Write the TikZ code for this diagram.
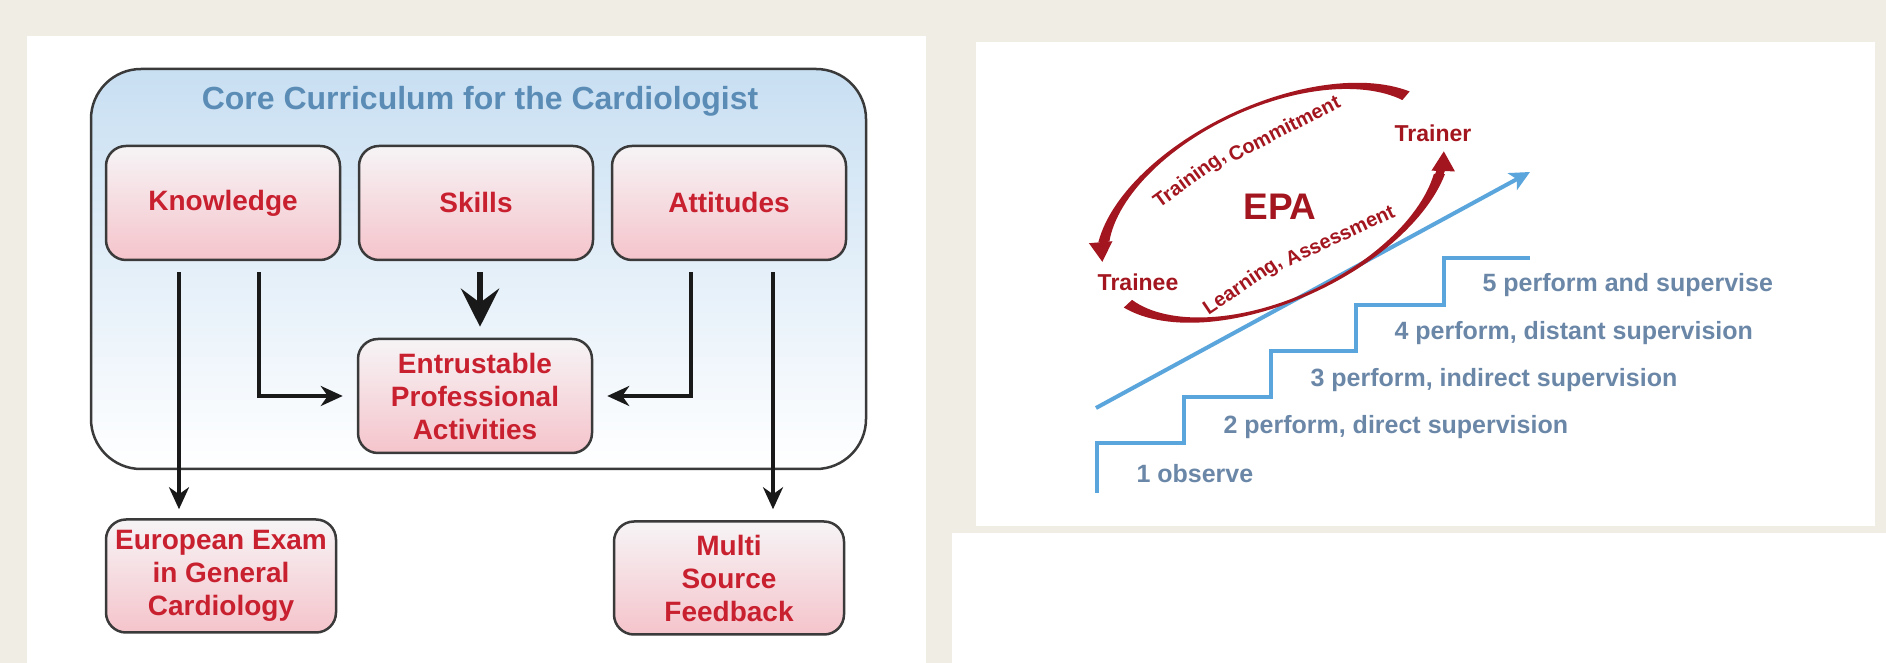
\documentclass[tikz,border=0pt]{standalone}
\usepackage{fontspec}
\setmainfont{Liberation Sans}
\usepackage{tikz}
\usetikzlibrary{arrows.meta}

\definecolor{bgbeige}{HTML}{F0EEE4}
\definecolor{boxred}{HTML}{C8202F}
\definecolor{titleblue}{HTML}{5B8CB6}
\definecolor{corefill}{HTML}{C8DFF2}
\definecolor{boxpink}{HTML}{F5C4CB}
\definecolor{boxtop}{HTML}{F6F4F6}
\definecolor{framegray}{HTML}{3A3A3A}
\definecolor{epared}{HTML}{A3161F}
\definecolor{stairblue}{HTML}{5AA5DC}
\definecolor{steptext}{HTML}{6B87A8}

\tikzset{
  bigbox/.style={draw=framegray, line width=2.5pt, rounded corners=50pt,
    top color=corefill, middle color=white!86!corefill, bottom color=white,
    minimum width=775pt, minimum height=400pt},
  box/.style={draw=framegray, line width=2.5pt, rounded corners=20pt,
    top color=boxtop, bottom color=boxpink, minimum width=234pt, minimum height=114pt,
    align=center, text=boxred, font=\fontsize{28}{33}\selectfont\bfseries},
  arr/.style={line width=3.5pt, draw=black!90, -{Stealth[length=22pt,width=20pt,inset=7pt]}},
  steplabel/.style={anchor=west, text=steptext, font=\fontsize{25}{25}\selectfont\bfseries},
  stair/.style={draw=stairblue, line width=4pt},
  actor/.style={text=epared, font=\fontsize{23}{23}\selectfont\bfseries},
  loopword/.style={text=epared, inner sep=0pt, font=\fontsize{20}{20}\selectfont\bfseries}
}

\begin{document}
\begin{tikzpicture}[x=1pt,y=1pt]
      \useasboundingbox (0,0) rectangle (1886,663);
      % panels
      \fill[bgbeige] (0,0) rectangle (1886,663);
      \fill[white] (27,0) rectangle (926,627);
      \fill[white] (976,137) rectangle (1875,621);
      \fill[white] (952,0) rectangle (1886,130);

      % left: core curriculum
      \node[bigbox] (core) at (478.5,394) {};
      \node[text=titleblue, font=\fontsize{32}{32}\selectfont\bfseries] (coretitle) at (480,562) {Core Curriculum for the Cardiologist};
      \node[box] (know) at (223,460) {Knowledge};
      \node[box] (skills) at (476,460) {Skills};
      \node[box] (att) at (729,460) {Attitudes};
      \node[box] (epa) at (475,267) {Entrustable\\Professional\\Activities};
      \node[box, minimum width=230pt, minimum height=113pt] (euro) at (221,87) {European Exam\\in General\\Cardiology};
      \node[box, minimum width=230pt, minimum height=113pt] (multi) at (729,85) {Multi\\Source\\Feedback};

      \draw[arr, shorten <=11pt, shorten >=9pt] ([xshift=-44pt]know.south) -- ([xshift=-44pt]know.south |- euro.north);
      \draw[arr, shorten <=11pt, shorten >=14pt] ([xshift=36pt]know.south) |- (epa.west);
      \draw[line width=6pt, draw=black!90, -{Stealth[length=38pt,width=38pt,inset=14pt]}, shorten <=11pt, shorten >=11pt] ([xshift=4pt]skills.south) -- ([xshift=4pt]skills.south |- epa.north);
      \draw[arr, shorten <=11pt, shorten >=14pt] ([xshift=-38pt]att.south) |- (epa.east);
      \draw[arr, shorten <=11pt, shorten >=11pt] ([xshift=44pt]att.south) -- ([xshift=44pt]att.south |- multi.north);

      % right: staircase
      \draw[stair] (1097,170) |- (1184,220) |- (1271,266) |- (1356,312) |- (1444,358) |- (1530,405);
      \coordinate (risebase) at (1096,255);
      \coordinate (risetop) at (1530,491);
      \draw[stair, -{Stealth[length=20pt,width=19pt,inset=5pt]}] (risebase) -- (risetop);
      \node[steplabel] (lvl1) at (1133,189) {1 observe};
      \node[steplabel] (lvl2) at (1220,236) {2 perform, direct supervision};
      \node[steplabel] (lvl3) at (1307,283) {3 perform, indirect supervision};
      \node[steplabel] (lvl4) at (1391,330) {4 perform, distant supervision};
      \node[steplabel] (lvl5) at (1479,378) {5 perform and supervise};

      % EPA loop
      \begin{scope}[shift={(1273,460)}, rotate=25]
        \fill[epared] plot[domain=25:158, samples=60] ({(183+1.5+4*((\x-92)/66)^2)*cos(\x)},{(97+1.5+4*((\x-92)/66)^2)*sin(\x)})
          -- plot[domain=158:25, samples=60] ({(183-1.5-4*((\x-92)/66)^2)*cos(\x)},{(97-1.5-4*((\x-92)/66)^2)*sin(\x)}) -- cycle;
        \draw[epared, line width=8pt, -{Triangle[length=20pt,width=22pt]}] (155:183 and 97) arc[start angle=155, end angle=169, x radius=183, y radius=97];
        \fill[epared] plot[domain=198:333, samples=60] ({(183+1.5+4*((\x-266)/67)^2)*cos(\x)},{(97+1.5+4*((\x-266)/67)^2)*sin(\x)})
          -- plot[domain=333:198, samples=60] ({(183-1.5-4*((\x-266)/67)^2)*cos(\x)},{(97-1.5-4*((\x-266)/67)^2)*sin(\x)}) -- cycle;
        \draw[epared, line width=8pt, -{Triangle[length=20pt,width=22pt]}] (330:183 and 97) arc[start angle=330, end angle=345, x radius=183, y radius=97];
      \end{scope}
      \node[loopword, rotate=36] (training) at (1190,483) {Training,};
      \node[loopword, rotate=27] (commitment) at (1284,535) {Commitment};
      \node[loopword, rotate=34] (learning) at (1243,377) {Learning,};
      \node[loopword, rotate=25] (assessment) at (1340,428) {Assessment};
      \node[text=epared, font=\fontsize{37}{37}\selectfont\bfseries] (epatxt) at (1280,456) {EPA};
      \node[actor] (trainer) at (1433,530) {Trainer};
      \node[actor] (trainee) at (1138,381) {Trainee};
\end{tikzpicture}
\end{document}
